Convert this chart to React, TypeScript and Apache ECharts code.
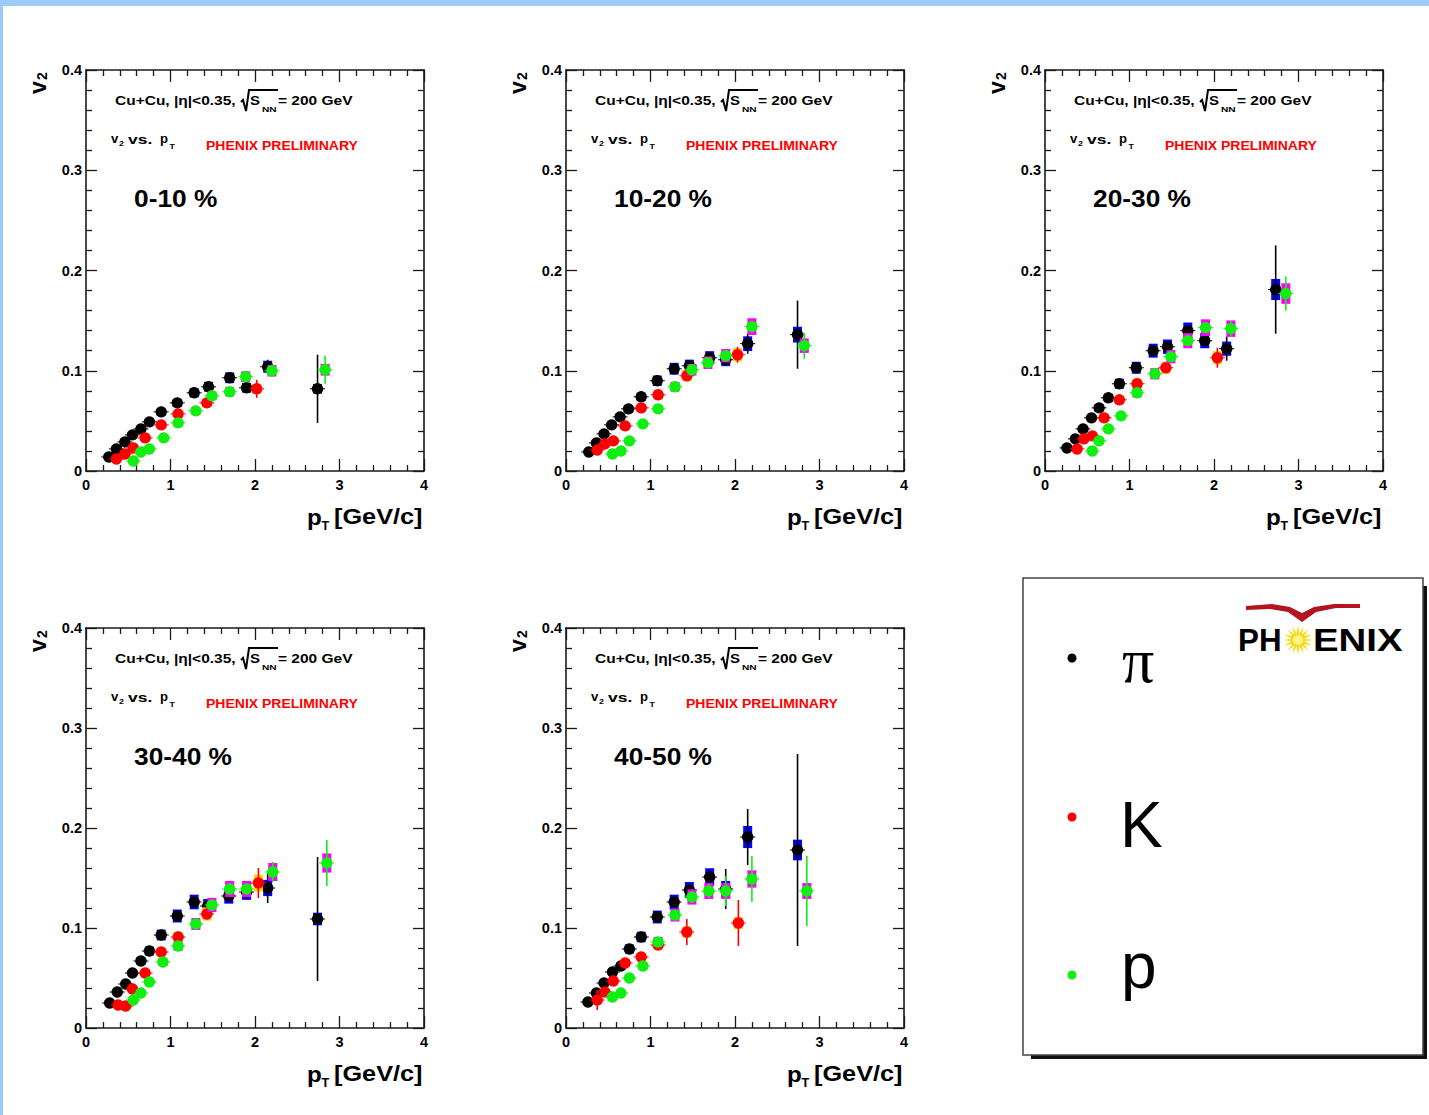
import React, { useEffect, useRef } from "react";
import * as echarts from "echarts";

// ---- Data: [pT, v2, stat error] ----
const pi_0_10 = [[0.27,0.014,0.001],[0.36,0.022,0.001],[0.46,0.029,0.001],[0.55,0.036,0.001],[0.65,0.042,0.001],[0.75,0.049,0.002],[0.89,0.059,0.002],[1.08,0.068,0.002],[1.28,0.078,0.002],[1.45,0.084,0.003],[1.70,0.093,0.003],[1.90,0.083,0.005],[2.15,0.104,0.007],[2.74,0.082,0.034]];
const K_0_10 = [[0.36,0.012,0.002],[0.46,0.017,0.002],[0.56,0.023,0.002],[0.70,0.033,0.002],[0.89,0.046,0.002],[1.09,0.057,0.003],[1.43,0.068,0.003],[2.02,0.082,0.009]];
const p_0_10 = [[0.56,0.010,0.002],[0.65,0.019,0.002],[0.75,0.022,0.002],[0.92,0.033,0.002],[1.09,0.048,0.002],[1.30,0.060,0.002],[1.49,0.075,0.003],[1.70,0.079,0.003],[1.89,0.094,0.004],[2.20,0.100,0.006],[2.83,0.101,0.014]];

const pi_10_20 = [[0.27,0.019,0.001],[0.36,0.028,0.001],[0.45,0.037,0.001],[0.54,0.046,0.001],[0.64,0.054,0.001],[0.74,0.062,0.002],[0.89,0.074,0.002],[1.08,0.090,0.002],[1.28,0.102,0.002],[1.46,0.105,0.003],[1.70,0.113,0.003],[1.89,0.111,0.005],[2.15,0.127,0.010],[2.74,0.136,0.034]];
const K_10_20 = [[0.37,0.021,0.002],[0.46,0.027,0.002],[0.56,0.030,0.002],[0.70,0.045,0.002],[0.89,0.063,0.002],[1.09,0.076,0.003],[1.43,0.095,0.004],[2.03,0.116,0.008]];
const p_10_20 = [[0.55,0.017,0.002],[0.65,0.020,0.002],[0.75,0.030,0.002],[0.91,0.047,0.002],[1.09,0.062,0.002],[1.29,0.084,0.002],[1.49,0.101,0.003],[1.68,0.108,0.003],[1.89,0.115,0.004],[2.20,0.144,0.006],[2.82,0.125,0.013]];

const pi_20_30 = [[0.26,0.023,0.001],[0.36,0.032,0.001],[0.45,0.042,0.001],[0.55,0.053,0.001],[0.64,0.063,0.001],[0.75,0.073,0.002],[0.88,0.087,0.002],[1.08,0.103,0.002],[1.28,0.120,0.002],[1.45,0.124,0.003],[1.69,0.140,0.003],[1.89,0.130,0.005],[2.15,0.122,0.012],[2.73,0.181,0.044]];
const K_20_30 = [[0.38,0.022,0.002],[0.46,0.032,0.002],[0.56,0.035,0.002],[0.70,0.053,0.002],[0.88,0.071,0.002],[1.09,0.087,0.003],[1.43,0.103,0.004],[2.04,0.113,0.010]];
const p_20_30 = [[0.56,0.020,0.002],[0.64,0.030,0.002],[0.75,0.042,0.002],[0.90,0.055,0.002],[1.09,0.078,0.002],[1.30,0.097,0.002],[1.49,0.114,0.003],[1.69,0.130,0.003],[1.90,0.143,0.004],[2.20,0.142,0.008],[2.85,0.177,0.017]];

const pi_30_40 = [[0.28,0.025,0.001],[0.37,0.036,0.001],[0.47,0.044,0.001],[0.55,0.055,0.001],[0.65,0.067,0.001],[0.75,0.077,0.002],[0.89,0.093,0.002],[1.08,0.112,0.002],[1.28,0.126,0.003],[1.44,0.122,0.003],[1.69,0.132,0.005],[1.90,0.136,0.007],[2.15,0.140,0.015],[2.74,0.109,0.062]];
const K_30_40 = [[0.38,0.023,0.002],[0.47,0.022,0.002],[0.55,0.039,0.002],[0.70,0.055,0.002],[0.89,0.076,0.002],[1.09,0.091,0.003],[1.43,0.114,0.005],[2.04,0.145,0.015]];
const p_30_40 = [[0.56,0.028,0.002],[0.65,0.035,0.002],[0.75,0.046,0.002],[0.91,0.066,0.002],[1.09,0.082,0.002],[1.30,0.104,0.003],[1.49,0.123,0.003],[1.70,0.139,0.004],[1.90,0.139,0.005],[2.21,0.156,0.010],[2.85,0.165,0.023]];

const pi_40_50 = [[0.26,0.026,0.001],[0.36,0.035,0.001],[0.45,0.045,0.002],[0.55,0.056,0.002],[0.65,0.062,0.002],[0.75,0.079,0.002],[0.89,0.091,0.002],[1.08,0.111,0.003],[1.28,0.126,0.004],[1.46,0.138,0.005],[1.70,0.151,0.007],[1.89,0.139,0.020],[2.15,0.191,0.028],[2.74,0.178,0.096]];
const K_40_50 = [[0.37,0.028,0.010],[0.46,0.036,0.005],[0.56,0.047,0.003],[0.70,0.065,0.003],[0.89,0.071,0.003],[1.09,0.083,0.004],[1.43,0.096,0.013],[2.04,0.105,0.023]];
const p_40_50 = [[0.55,0.031,0.002],[0.65,0.035,0.002],[0.75,0.050,0.002],[0.91,0.062,0.002],[1.09,0.086,0.003],[1.29,0.113,0.004],[1.49,0.131,0.005],[1.69,0.137,0.007],[1.89,0.137,0.015],[2.20,0.149,0.023],[2.85,0.137,0.035]];

const centralities = ["0-10 %", "10-20 %", "20-30 %", "30-40 %", "40-50 %"];
const panelData = [
  [pi_0_10, K_0_10, p_0_10],
  [pi_10_20, K_10_20, p_10_20],
  [pi_20_30, K_20_30, p_20_30],
  [pi_30_40, K_30_40, p_30_40],
  [pi_40_50, K_40_50, p_40_50],
];
const species = ["π", "K", "p"];
const xTicks = [0, 4, 1];
const yTicks = [0, 0.4, 0.1];

const SYS_FRAC = 0.058;
const COLORS = ["#000000", "#ff0000", "#11ee11"];
const SYS_COLORS = ["#0000ff", "#ffd400", "#ff00ff"];

const LAYOUT = [
  { left: 86, top: 70, h: 401 },
  { left: 566, top: 70, h: 401 },
  { left: 1045, top: 70, h: 401 },
  { left: 86, top: 628, h: 400 },
  { left: 566, top: 628, h: 400 },
];
const PW = 338;
const FONT = '"Liberation Sans", Arial, Helvetica, sans-serif';

function txt(x, y, text, size, o: any = {}) {
  return {
    type: "text",
    x, y,
    scaleX: o.sx ?? 1,
    rotation: o.rot ?? 0,
    z: 100,
    style: {
      text,
      font: `${o.weight ?? "bold"} ${size}px ${o.family ?? FONT}`,
      fill: o.color ?? "#000",
      textAlign: o.align ?? "left",
      align: o.align ?? "left",
      textVerticalAlign: "middle",
      verticalAlign: "middle",
    },
  };
}

function panelGraphics(i) {
  const L = LAYOUT[i];
  const dx = L.left - 86, dy = L.top - 70;
  const g: any[] = [];
  // y title v2
  g.push(txt(38 + dx, 94 + dy, "v", 23, { rot: Math.PI / 2 }));
  g.push(txt(42 + dx, 80 + dy, "2", 14, { rot: Math.PI / 2 }));
  // header line
  g.push(txt(115 + dx, 101 + dy, "Cu+Cu, |η|<0.35,", 12.5, { sx: 1.24 }));
  g.push({
    type: "polyline", z: 100,
    shape: { points: [[241 + dx, 102 + dy], [243 + dx, 100 + dy], [246 + dx, 111 + dy], [249 + dx, 90 + dy], [278 + dx, 90 + dy]] },
    style: { stroke: "#000", lineWidth: 2, fill: null },
  });
  g.push(txt(250 + dx, 101 + dy, "S", 12.5, { sx: 1.2 }));
  g.push(txt(262 + dx, 109 + dy, "NN", 7.5, { sx: 1.35 }));
  g.push(txt(278 + dx, 101 + dy, "= 200 GeV", 12.5, { sx: 1.24 }));
  // v2 vs pT
  g.push(txt(111 + dx, 139 + dy, "v", 12.5, { sx: 1.05 }));
  g.push(txt(119 + dx, 143 + dy, "2", 8, { sx: 1.1 }));
  g.push(txt(128 + dx, 139 + dy, "vs.", 12.5, { sx: 1.4 }));
  g.push(txt(160 + dx, 139 + dy, "p", 12.5, { sx: 1.05 }));
  g.push(txt(169.5 + dx, 146 + dy, "T", 8, { sx: 1.1 }));
  g.push(txt(206 + dx, 146 + dy, "PHENIX PRELIMINARY", 12.5, { sx: 1.12, color: "#ff0000" }));
  // centrality
  g.push(txt(134 + dx, 199 + dy, centralities[i], 23.5, { sx: 1.12 }));
  // x title
  const by = L.top + L.h;
  g.push(txt(307 + dx, by + 46, "p", 22, { sx: 1.1 }));
  g.push(txt(321.5 + dx, by + 55, "T", 12, { sx: 1.05 }));
  g.push(txt(334 + dx, by + 46, "[GeV/c]", 22, { sx: 1.15 }));
  return g;
}

function legendGraphics() {
  const g: any[] = [];
  g.push({ type: "rect", z: 90, shape: { x: 1031, y: 586, width: 396, height: 473 }, style: { fill: "#111" } });
  g.push({ type: "rect", z: 91, shape: { x: 1023, y: 578, width: 400, height: 477 }, style: { fill: "#fff", stroke: "#444", lineWidth: 1.5 } });
  const ys = [658, 817, 975];
  species.forEach((s, k) => {
    g.push({ type: "circle", z: 100, shape: { cx: 1072, cy: ys[k], r: 4.5 }, style: { fill: COLORS[k] } });
  });
  g.push(txt(1122, 660, "π", 64, { weight: "normal", family: '"Liberation Serif", "DejaVu Serif", serif' }));
  g.push(txt(1120, 825, "K", 64, { weight: "normal" }));
  g.push(txt(1121, 966, "p", 64, { weight: "normal" }));
  // PHENIX logo
  g.push({
    type: "polygon", z: 100,
    shape: {
      points: [[1246, 606], [1272, 604], [1290, 607], [1302, 613], [1314, 607], [1334, 604], [1360, 604],
        [1360, 608], [1336, 608], [1316, 612], [1302, 622], [1288, 612], [1270, 609], [1246, 610]],
    },
    style: { fill: "#b3141f" },
  });
  const star: number[][] = [];
  const N = 16;
  for (let k = 0; k < N * 2; k++) {
    const a = (k * Math.PI) / N;
    const r = k % 2 === 0 ? 15 : 7;
    star.push([1298 + r * Math.cos(a), 640 + r * Math.sin(a)]);
  }
  g.push({ type: "polygon", z: 100, shape: { points: star }, style: { fill: "#f2dd1a" } });
  g.push({ type: "circle", z: 101, shape: { cx: 1298, cy: 640, r: 5 }, style: { fill: "#fff38a" } });
  g.push(txt(1238, 640, "PH", 32, { sx: 0.98 }));
  g.push(txt(1313, 640, "ENIX", 32, { sx: 1.2 }));
  return g;
}

function makeRender(k) {
  return (params, api) => {
    const x = api.value(0), y = api.value(1), e = api.value(2);
    const c = api.coord([x, y]);
    const t = api.coord([x, y + e]);
    const b = api.coord([x, y - e]);
    const st = api.coord([x, y * (1 + SYS_FRAC)]);
    const h = c[1] - st[1];
    return {
      type: "group",
      children: [
        { type: "rect", shape: { x: c[0] - 4.5, y: c[1] - h, width: 9, height: 2 * h }, style: { fill: SYS_COLORS[k] } },
        { type: "line", shape: { x1: c[0], y1: t[1], x2: c[0], y2: b[1] }, style: { stroke: COLORS[k], lineWidth: 1.6 } },
        { type: "line", shape: { x1: c[0] - 7.5, y1: c[1], x2: c[0] + 7.5, y2: c[1] }, style: { stroke: COLORS[k], lineWidth: 1 } },
        { type: "circle", shape: { cx: c[0], cy: c[1], r: 5.7 }, style: { fill: COLORS[k] } },
      ],
    };
  };
}

export default function App() {
  const ref = useRef<HTMLDivElement>(null);
  useEffect(() => {
    if (!ref.current) return;
    const chart = echarts.init(ref.current, null, { renderer: "svg" });
    const lineStyle = { color: "#1a1a1a", width: 1.6 };
    const tickStyle = { color: "#1a1a1a", width: 1.3 };
    const label = { fontSize: 14.5, fontWeight: "bold", fontFamily: FONT, color: "#000" };
    const xAxis: any[] = [];
    const yAxis: any[] = [];
    const grid: any[] = [];
    const series: any[] = [];
    LAYOUT.forEach((L, i) => {
      grid.push({ left: L.left, top: L.top, width: PW, height: L.h });
      ["bottom", "top"].forEach((pos, j) => {
        xAxis.push({
          gridIndex: i, type: "value", position: pos, min: xTicks[0], max: xTicks[1], interval: xTicks[2],
          axisLine: { show: true, onZero: false, lineStyle },
          axisTick: { show: true, inside: true, length: 12, lineStyle: tickStyle },
          minorTick: { show: true, splitNumber: 5, length: 6, lineStyle: tickStyle },
          axisLabel: { show: j === 0, margin: 6, ...label },
          splitLine: { show: false },
        });
      });
      ["left", "right"].forEach((pos, j) => {
        yAxis.push({
          gridIndex: i, type: "value", position: pos, min: yTicks[0], max: yTicks[1], interval: yTicks[2],
          axisLine: { show: true, onZero: false, lineStyle },
          axisTick: { show: true, inside: true, length: 11, lineStyle: tickStyle },
          minorTick: { show: true, splitNumber: 5, length: 6, lineStyle: tickStyle },
          axisLabel: { show: j === 0, margin: 4, ...label },
          splitLine: { show: false },
        });
      });
      panelData[i].forEach((d, k) => {
        series.push({
          type: "custom",
          name: species[k],
          xAxisIndex: 2 * i,
          yAxisIndex: 2 * i,
          data: d,
          encode: { x: 0, y: 1 },
          renderItem: makeRender(k),
          z: 3 + k,
        });
      });
    });
    const graphic: any[] = [];
    LAYOUT.forEach((_, i) => graphic.push(...panelGraphics(i)));
    graphic.push(...legendGraphics());
    chart.setOption({
      animation: false,
      backgroundColor: "transparent",
      grid, xAxis, yAxis, series, graphic,
    });
    return () => chart.dispose();
  }, []);
  return (
    <div style={{ position: "absolute", left: 0, top: 0, width: 1429, height: 1115, background: "#9ccbfb", overflow: "hidden" }}>
      <div style={{ position: "absolute", left: 3, top: 6, width: 1426, height: 1109, background: "#fff" }} />
      <div ref={ref} style={{ position: "absolute", left: 0, top: 0, width: 1429, height: 1115 }} />
    </div>
  );
}
